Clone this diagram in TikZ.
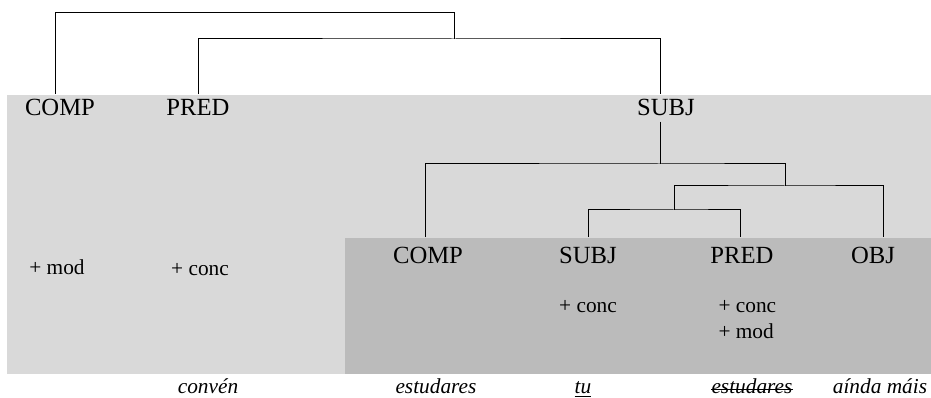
\documentclass[tikz,border=0pt]{standalone}
\usepackage{fontspec}
\setmainfont{Liberation Serif}
\usepackage{tikz}

\begin{document}
\begin{tikzpicture}[x=0.75pt, y=-0.75pt, line width=0.75pt,
    lbl/.style={font=\fontsize{18.5}{22}\selectfont, inner xsep=0pt, anchor=base},
    toplbl/.style={lbl, inner ysep=3.75pt},
    lowlbl/.style={lbl, inner ysep=7.5pt},
    note/.style={font=\fontsize{16}{19}\selectfont, inner sep=0pt, anchor=base},
    word/.style={font=\fontsize{16}{19}\selectfont\itshape, inner sep=0pt, anchor=base}]
    \useasboundingbox (0,0) rectangle (931,398);
    \definecolor{lightbox}{RGB}{217,217,217}
    \definecolor{darkbox}{RGB}{187,187,187}
    \fill[lightbox] (7,95) rectangle (931,374);
    \fill[darkbox] (345,238) rectangle (931,374);

    \node[toplbl] (comp1) at (60,116) {COMP};
    \node[toplbl] (pred1) at (198,116) {PRED};
    \node[toplbl] (subj1) at (666,116) {SUBJ};
    \node[lowlbl] (comp2) at (428,264) {COMP};
    \node[lowlbl] (subj2) at (588,264) {SUBJ};
    \node[lowlbl] (pred2) at (742,264) {PRED};
    \node[lowlbl] (obj)   at (873,264) {OBJ};

    \node[note] (mod1)  at (57,275)  {+ mod};
    \node[note] (conc1) at (200,276) {+ conc};
    \node[note] (conc2) at (588,313) {+ conc};
    \node[note, anchor=base west] (conc3) at (718,313) {+ conc};
    \node[note, anchor=base west] (mod3)  at (718,339) {+ mod};

    \node[word] (w1) at (208,394) {convén};
    \node[word] (w2) at (436,394) {estudares};
    \node[word] (w3) at (583,394) {\underline{tu}};
    \node[word] (w4) at (752,394) {estudares};
    \draw[line width=0.6pt] ([yshift=3.6pt]w4.base west) -- ([yshift=3.6pt]w4.base east);

    % upper tree
    \coordinate (r0) at (454,13);
    \coordinate (r1) at (454,39);
    \draw ([xshift=-3.75pt]comp1.north) |- (r0) -- (r1);
    \draw (pred1.north) |- (r1) -| ([xshift=-4.5pt]subj1.north);
    % lower tree
    \coordinate (s0) at (660,164);
    \coordinate (s1) at (785,186);
    \coordinate (s2) at (674,210);
    \draw ([xshift=-4.5pt]subj1.south) -- (s0);
    \draw ([xshift=-2.25pt]comp2.north) |- (s0) -| (s1);
    \draw (s2) |- (s1) -| ([xshift=7.5pt]obj.north);
    \draw (subj2.north) |- (s2) -| ([xshift=-1.5pt]pred2.north);

    \node[word] (w5) at (880,394) {aínda máis};
\end{tikzpicture}
\end{document}
